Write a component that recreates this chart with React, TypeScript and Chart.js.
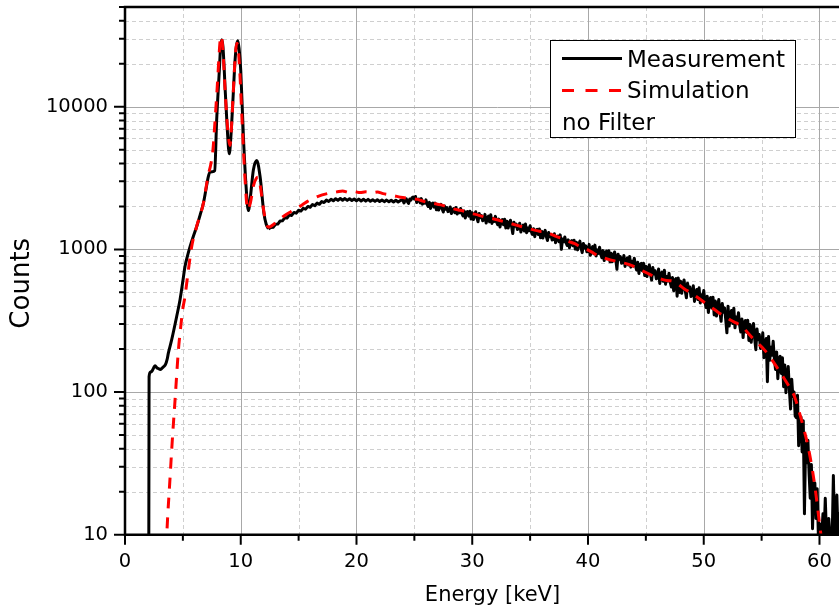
import React, { useEffect, useRef } from "react";
import { Chart, registerables } from "chart.js";

Chart.register(...registerables);

// ---------- axis ticks ----------
const xTickValues = [0, 10, 20, 30, 40, 50, 60];
const xMinorValues = [5, 15, 25, 35, 45, 55];
const yTickValues = [10, 100, 1000, 10000];
const yMinorMultipliers = [2, 3, 4, 5, 6, 7, 8, 9];

// ---------- Measurement (black) ----------
// smooth low-energy part (keV, counts)
const measSmoothEnergy = [
  2.05, 2.08, 2.2, 2.35, 2.5, 2.6, 2.75, 2.9, 3.05, 3.2,
  3.35, 3.5, 3.65, 3.75, 4.03, 4.46, 4.75, 5.0, 5.18, 5.4,
  5.62, 5.9, 6.19, 6.5, 6.77, 7.0, 7.2, 7.35, 7.55, 7.75,
  7.92, 8.15, 8.25, 8.35, 8.45, 8.55, 8.64, 8.84, 9.01, 9.15,
  9.31, 9.51, 9.62, 9.74, 9.86, 10.0, 10.23, 10.46, 10.66, 10.85,
  11.09, 11.38, 11.67, 12.0, 12.2, 12.39,
];
const measSmoothCounts = [
  3, 128, 138, 141, 149, 153, 148, 146, 144, 147,
  151, 156, 171, 188, 232, 337, 442, 600, 757, 900,
  1045, 1230, 1442, 1750, 2104, 2650, 3240, 3480, 3500, 3560,
  8070, 18000, 25500, 29500, 27000, 20000, 13800, 6870, 4680, 6200,
  10570, 21200, 26500, 29000, 25500, 18000, 6170, 2760, 1870, 2400,
  3600, 4200, 3240, 1790, 1500, 1393,
];
// channels 12.6 .. 23.8 keV, 0.2 keV wide
const measMidStartKeV = 12.6;
const measMidStepKeV = 0.2;
const measMidCounts = [
  1425, 1430, 1500, 1505, 1580,
  1585, 1665, 1660, 1745, 1730,
  1815, 1795, 1880, 1855, 1940,
  1915, 2000, 1975, 2060, 2025,
  2110, 2070, 2165, 2130, 2215,
  2165, 2245, 2190, 2265, 2205,
  2275, 2210, 2270, 2205, 2265,
  2200, 2255, 2190, 2250, 2185,
  2245, 2180, 2240, 2175, 2230,
  2170, 2225, 2165, 2220, 2160,
  2215, 2155, 2210, 2150, 2210,
  2150, 2205,
];
// channels 24.0 .. 62.4 keV, 0.1 keV wide
const measHighStartKeV = 24.0;
const measHighStepKeV = 0.1;
const measHighCounts = [
  2220, 2115, 2195, 2260, 2160, 2100, 2250, 2215, 2300, 2330,
  2254, 2350, 2130, 2221, 2256, 2116, 2268, 2075, 2172, 2104,
  2224, 2073, 1998, 2136, 1938, 2087, 2111, 1977, 2111, 1894,
  2050, 1886, 1996, 2069, 1919, 1828, 2017, 1915, 1964, 1840,
  1854, 1983, 1782, 1887, 1935, 1804, 1963, 1767, 1869, 1806,
  1935, 1786, 1715, 1857, 1661, 1814, 1843, 1711, 1850, 1633,
  1804, 1617, 1748, 1836, 1664, 1562, 1785, 1670, 1729, 1588,
  1607, 1759, 1528, 1652, 1710, 1560, 1747, 1521, 1642, 1571,
  1704, 1557, 1487, 1630, 1435, 1589, 1619, 1488, 1628, 1412,
  1576, 1411, 1524, 1600, 1449, 1290, 1552, 1451, 1502, 1378,
  1394, 1524, 1322, 1428, 1478, 1346, 1507, 1309, 1413, 1350,
  1463, 1336, 1274, 1397, 1228, 1360, 1383, 1271, 1389, 1205,
  1342, 1201, 1295, 1359, 1230, 1153, 1315, 1228, 1269, 1164,
  1176, 1285, 1114, 1203, 1242, 1131, 1264, 1000, 1183, 1130,
  1222, 1116, 1064, 1166, 1025, 1135, 1154, 1060, 1158, 1004,
  1123, 992, 1081, 1142, 1021, 949, 1101, 1021, 1060, 962,
  970, 1084, 908, 1002, 1045, 931, 1071, 900, 991, 937,
  1036, 925, 873, 980, 835, 950, 972, 875, 978, 819,
  940, 819, 903, 959, 849, 725, 926, 851, 889, 799,
  811, 907, 759, 837, 872, 777, 893, 751, 825, 780,
  868, 766, 716, 811, 678, 780, 797, 708, 799, 655,
  763, 645, 726, 779, 673, 609, 745, 673, 708, 622,
  630, 729, 577, 657, 693, 597, 714, 570, 645, 600,
  681, 589, 545, 634, 513, 608, 625, 470, 629, 499,
  599, 492, 564, 611, 515, 458, 579, 514, 545, 467,
  477, 556, 432, 496, 524, 445, 538, 421, 480, 443,
  515, 431, 391, 470, 361, 445, 460, 388, 462, 347,
  434, 341, 404, 445, 363, 313, 417, 362, 389, 322,
  260, 400, 290, 347, 373, 302, 387, 282, 336, 303,
  360, 295, 264, 325, 241, 306, 317, 262, 318, 230,
  297, 223, 271, 302, 237, 198, 277, 233, 253, 202,
  205, 260, 174, 218, 237, 118, 245, 167, 206, 181,
  227, 171, 144, 191, 124, 172, 178, 135, 174, 109,
  155, 99, 131, 151, 103, 76, 123, 93, 100, 68,
  66, 95, 42, 62, 67, 38, 63, 14, 44, 32,
  46, 27, 18, 31, 11, 23, 23, 13, 21, 10,
  12, 10, 10, 14, 10, 18, 10, 10, 13, 10,
  10, 10, 26, 10, 10, 19, 10, 14, 10, 16,
  10, 12, 10, 10, 10,
];

// ---------- Simulation (red dashed) ----------
const simEnergy = [
  3.55, 3.7, 3.85, 4.03, 4.15, 4.32, 4.46, 4.61, 4.8, 4.98,
  5.18, 5.45, 5.76, 6.19, 6.77, 7.0, 7.2, 7.4, 7.6, 7.78,
  7.95, 8.1, 8.2, 8.28, 8.38, 8.5, 8.65, 8.82, 8.95, 9.07,
  9.2, 9.35, 9.5, 9.65, 9.78, 9.92, 10.1, 10.35, 10.6, 10.85,
  11.1, 11.35, 11.5, 11.7, 11.95, 12.2, 12.42,
  12.8, 13.3, 13.8, 14.3, 14.8, 15.3, 15.8, 16.3, 16.8, 17.3,
  17.8, 18.3, 18.8, 19.3, 19.8, 20.3, 20.8, 21.3, 21.8, 22.3,
  22.8, 23.3, 23.8, 24.3, 24.8, 25.3, 25.8, 26.3, 26.8, 27.3,
  27.8, 28.3, 28.8, 29.3, 29.8, 30.3, 30.8, 31.3, 31.8, 32.3,
  32.8, 33.3, 33.8, 34.3, 34.8, 35.3, 35.8, 36.3, 36.8, 37.3,
  37.8, 38.3, 38.8, 39.3, 39.8, 40.3, 40.8, 41.3, 41.8, 42.3,
  42.8, 43.3, 43.8, 44.3, 44.8, 45.3, 45.8, 46.3, 46.8, 47.3,
  47.8, 48.3, 48.8, 49.3, 49.8, 50.3, 50.8, 51.3, 51.8, 52.3,
  52.8, 53.3, 53.8, 54.3, 54.8, 55.3, 55.8, 56.3, 56.8, 57.3,
  57.8, 58.2, 58.6, 59.0, 59.4, 59.7, 60.0, 60.2, 60.4,
];
const simCounts = [
  8, 14, 22, 38.8, 55, 87, 130, 195, 280, 376,
  466, 690, 1045, 1450, 2100, 2700, 3350, 3900, 5000, 8000,
  13000, 21000, 28000, 31300, 29500, 22000, 13000, 7800, 6000, 5350,
  7200, 12500, 21000, 27900, 25500, 17500, 8500, 3300, 1900, 2150,
  2800, 3150, 3200, 2750, 1950, 1520, 1430,
  1490, 1610, 1730, 1830, 1930, 2050, 2180, 2280, 2370, 2440,
  2490, 2530, 2570, 2510, 2540, 2500, 2530, 2490, 2520, 2460,
  2420, 2370, 2320, 2290, 2270, 2240, 2170, 2120, 2090, 2050,
  1990, 1930, 1890, 1850, 1790, 1760, 1710, 1670, 1640, 1600,
  1560, 1520, 1480, 1440, 1400, 1370, 1340, 1330, 1280, 1230,
  1190, 1140, 1100, 1050, 1010, 960, 910, 875, 850, 830,
  810, 795, 770, 730, 700, 670, 640, 620, 605, 600,
  570, 530, 500, 470, 440, 410, 385, 360, 340, 320,
  305, 290, 260, 235, 215, 195, 172, 150, 130, 112,
  95, 75, 57, 42, 28, 19, 12, 9, 7,
];

const legendLabels = ["Measurement", "Simulation", "no Filter"];
const xTitle = "Energy [keV]";
const yTitle = "Counts";

const FONT = "DejaVu Sans";

const framePlugin = {
  id: "originFrame",
  beforeDatasetsDraw(chart: any) {
    const { ctx, chartArea: a, scales } = chart;
    const x = scales.x;
    const y = scales.y;
    const W = chart.width;
    ctx.save();
    ctx.lineWidth = 1;
    ctx.strokeStyle = "#cfcfcf";
    ctx.setLineDash([4, 3]);
    for (const v of xMinorValues) {
      const px = Math.round(x.getPixelForValue(v)) + 0.5;
      ctx.beginPath();
      ctx.moveTo(px, a.top);
      ctx.lineTo(px, a.bottom);
      ctx.stroke();
    }
    for (const d of yTickValues) {
      for (const m of yMinorMultipliers) {
        const v = d * m;
        if (v > y.max) continue;
        const py = Math.round(y.getPixelForValue(v)) + 0.5;
        ctx.beginPath();
        ctx.moveTo(a.left, py);
        ctx.lineTo(W, py);
        ctx.stroke();
      }
    }
    ctx.setLineDash([]);
    ctx.strokeStyle = "#a8a8a8";
    for (const v of xTickValues) {
      if (v === 0) continue;
      const px = Math.round(x.getPixelForValue(v)) + 0.5;
      ctx.beginPath();
      ctx.moveTo(px, a.top);
      ctx.lineTo(px, a.bottom);
      ctx.stroke();
    }
    for (const v of yTickValues) {
      if (v === 10) continue;
      const py = Math.round(y.getPixelForValue(v)) + 0.5;
      ctx.beginPath();
      ctx.moveTo(a.left, py);
      ctx.lineTo(W, py);
      ctx.stroke();
    }
    ctx.restore();
  },
  afterDatasetsDraw(chart: any) {
    const { ctx, chartArea: a, scales } = chart;
    const x = scales.x;
    const y = scales.y;
    const W = chart.width;
    ctx.save();
    ctx.setLineDash([]);
    ctx.strokeStyle = "#000";
    ctx.lineWidth = 2.5;
    ctx.beginPath();
    ctx.moveTo(a.left, a.top - 1.25);
    ctx.lineTo(a.left, a.bottom + 1.25);
    ctx.moveTo(a.left - 1.25, a.bottom);
    ctx.lineTo(W, a.bottom);
    ctx.moveTo(a.left - 1.25, a.top);
    ctx.lineTo(W, a.top);
    ctx.stroke();
    ctx.lineWidth = 2;
    ctx.beginPath();
    for (const v of xTickValues) {
      const px = x.getPixelForValue(v);
      ctx.moveTo(px, a.bottom);
      ctx.lineTo(px, a.bottom + 10);
    }
    for (const v of xMinorValues) {
      const px = x.getPixelForValue(v);
      ctx.moveTo(px, a.bottom);
      ctx.lineTo(px, a.bottom + 6);
    }
    for (const d of yTickValues) {
      const py = y.getPixelForValue(d);
      ctx.moveTo(a.left - 11, py);
      ctx.lineTo(a.left, py);
      for (const m of yMinorMultipliers) {
        const v = d * m;
        if (v > y.max) continue;
        const pm = y.getPixelForValue(v);
        ctx.moveTo(a.left - 6, pm);
        ctx.lineTo(a.left, pm);
      }
    }
    ctx.stroke();
    ctx.restore();
  },
  afterDraw(chart: any) {
    const { ctx } = chart;
    ctx.save();
    ctx.fillStyle = "#fff";
    ctx.fillRect(550.5, 40.5, 245, 97);
    ctx.strokeStyle = "#000";
    ctx.lineWidth = 1;
    ctx.strokeRect(550.5, 40.5, 245, 97);
    ctx.lineWidth = 3;
    ctx.setLineDash([]);
    ctx.beginPath();
    ctx.moveTo(562, 58.5);
    ctx.lineTo(622, 58.5);
    ctx.stroke();
    ctx.strokeStyle = "#ff0000";
    ctx.setLineDash([12, 11.5]);
    ctx.beginPath();
    ctx.moveTo(562, 90.5);
    ctx.lineTo(622, 90.5);
    ctx.stroke();
    ctx.setLineDash([]);
    ctx.fillStyle = "#000";
    ctx.font = `23px "${FONT}"`;
    ctx.textBaseline = "alphabetic";
    ctx.textAlign = "left";
    ctx.fillText(legendLabels[0], 627, 66.7);
    ctx.fillText(legendLabels[1], 627, 98.3);
    ctx.fillText(legendLabels[2], 562, 130);
    ctx.restore();
  },
};

const zeroPad = (s: any) => {
  s.paddingTop = 0;
  s.paddingBottom = 0;
  s.paddingLeft = 0;
  s.paddingRight = 0;
};

export default function App() {
  const ref = useRef<HTMLCanvasElement | null>(null);

  useEffect(() => {
    if (!ref.current) return;
    const smoothData = measSmoothEnergy.map((e, i) => ({ x: e, y: measSmoothCounts[i] }));
    const last = smoothData[smoothData.length - 1];
    const noisyData = [{ x: last.x, y: last.y }]
      .concat(
        measMidCounts.map((c, i) => ({
          x: +(measMidStartKeV + i * measMidStepKeV).toFixed(2),
          y: c,
        }))
      )
      .concat(
        measHighCounts.map((c, i) => ({
          x: +(measHighStartKeV + i * measHighStepKeV).toFixed(2),
          y: c,
        }))
      );
    const simData = simEnergy.map((e, i) => ({ x: e, y: simCounts[i] }));

    const chart = new Chart(ref.current, {
      type: "line",
      data: {
        datasets: [
          {
            label: legendLabels[1],
            data: simData,
            borderColor: "#ff0000",
            borderWidth: 3,
            borderDash: [11, 9],
            pointRadius: 0,
            fill: false,
            cubicInterpolationMode: "monotone",
            order: 0,
          },
          {
            label: legendLabels[0],
            data: smoothData,
            borderColor: "#000000",
            borderWidth: 3,
            borderJoinStyle: "round",
            pointRadius: 0,
            fill: false,
            cubicInterpolationMode: "monotone",
            order: 1,
          },
          {
            label: legendLabels[0] + " (noisy part)",
            data: noisyData,
            borderColor: "#000000",
            borderWidth: 3,
            borderJoinStyle: "round",
            pointRadius: 0,
            fill: false,
            tension: 0,
            order: 2,
          },
        ],
      },
      options: {
        responsive: false,
        animation: false,
        devicePixelRatio: 1,
        events: [],
        layout: { padding: { left: 0, right: 10, top: 7, bottom: 0 } },
        plugins: {
          legend: { display: false },
          tooltip: { enabled: false },
        },
        scales: {
          x: {
            type: "linear",
            min: 0,
            max: 63.5,
            afterBuildTicks: (s: any) => {
              s.ticks = xTickValues.map((v) => ({ value: v }));
            },
            afterFit: (s: any) => {
              s.height = 80.3;
              zeroPad(s);
            },
            grid: { display: false, drawTicks: false },
            border: { display: false },
            ticks: {
              color: "#000",
              font: { family: FONT, size: 19.5 },
              padding: 15.5,
              maxRotation: 0,
              autoSkip: false,
            },
            title: {
              display: true,
              text: xTitle,
              color: "#000",
              font: { family: FONT, size: 21 },
              padding: { top: 0, bottom: 6.4 },
            },
          },
          y: {
            type: "logarithmic",
            min: 10,
            max: 50000,
            afterBuildTicks: (s: any) => {
              s.ticks = yTickValues.map((v) => ({ value: v }));
            },
            afterFit: (s: any) => {
              s.width = 125;
              zeroPad(s);
            },
            grid: { display: false, drawTicks: false },
            border: { display: false },
            ticks: {
              color: "#000",
              font: { family: FONT, size: 19.5 },
              padding: 17,
              autoSkip: false,
              callback: (v: any) => String(v),
            },
            title: {
              display: true,
              text: yTitle + "   ",
              color: "#000",
              font: { family: FONT, size: 26 },
              padding: { top: 7, bottom: 0 },
            },
          },
        },
      },
      plugins: [framePlugin],
    } as any);

    return () => chart.destroy();
  }, []);

  return (
    <div
      style={{
        position: "fixed",
        left: 0,
        top: 0,
        width: 839,
        height: 615,
        overflow: "hidden",
        background: "#fff",
      }}
    >
      <canvas ref={ref} width={870} height={615} style={{ display: "block", width: 870, height: 615 }} />
    </div>
  );
}
